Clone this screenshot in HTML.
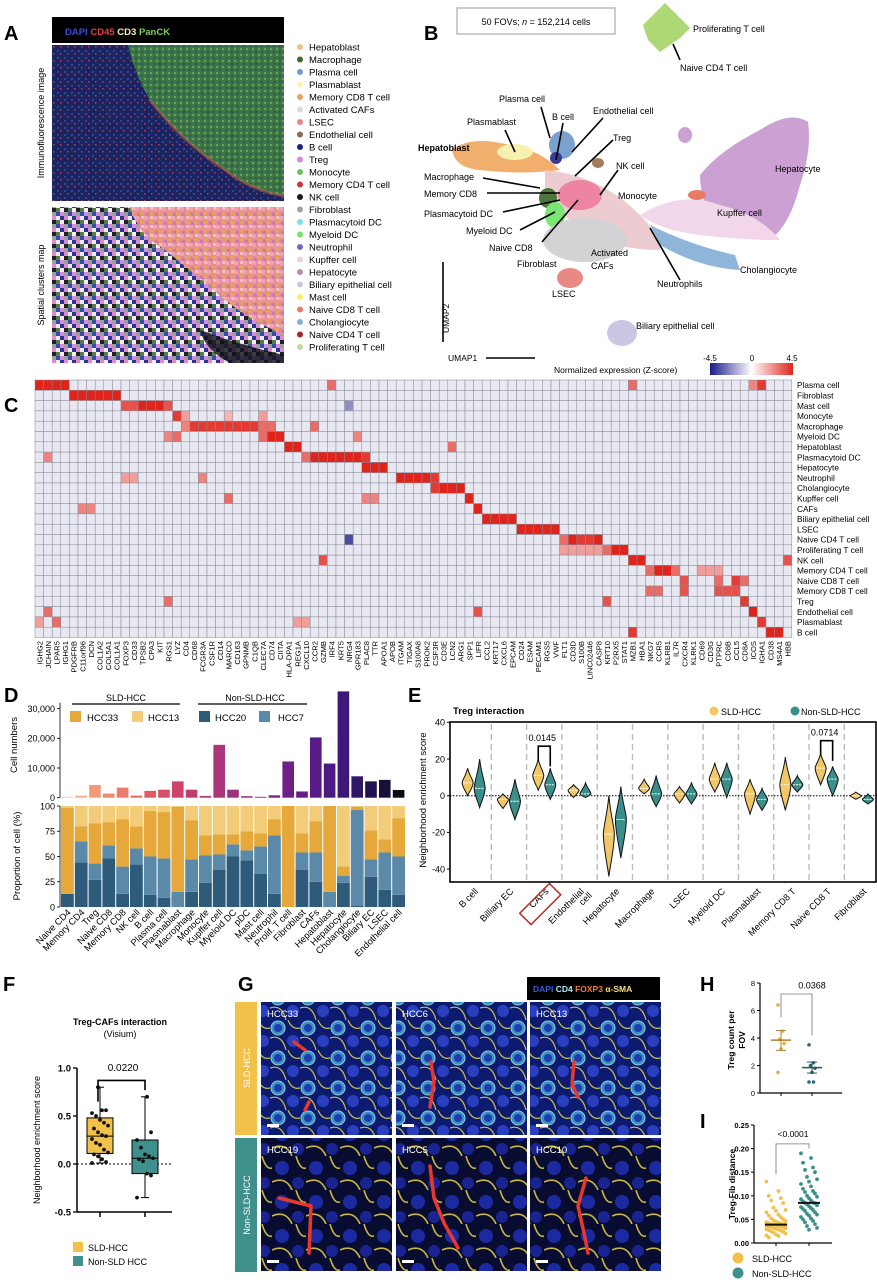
<!DOCTYPE html>
<html><head><meta charset="utf-8">
<style>
html,body{margin:0;padding:0;background:#fff;}
svg{display:block;font-family:"Liberation Sans",Arial,sans-serif;}
</style></head>
<body>
<svg id="fig" width="877" height="1280" viewBox="0 0 877 1280" xmlns="http://www.w3.org/2000/svg">
<defs>
  <pattern id="pinkTex" width="9" height="9" patternUnits="userSpaceOnUse">
    <rect width="9" height="9" fill="#e88a98"/>
    <rect x="0" y="0" width="4" height="4" fill="#f0a3a8"/>
    <rect x="5" y="4" width="4" height="4" fill="#e6a35e"/>
    <rect x="2" y="6" width="3" height="3" fill="#c87aa8"/>
    <rect x="6" y="0" width="3" height="3" fill="#f3c0c8"/>
  </pattern>
  <pattern id="mixTex" width="12" height="12" patternUnits="userSpaceOnUse">
    <rect width="12" height="12" fill="#8aa8d0"/>
    <rect x="0" y="0" width="4" height="4" fill="#2a3496"/>
    <rect x="4" y="0" width="4" height="4" fill="#e08ac8"/>
    <rect x="8" y="0" width="4" height="4" fill="#f2eaf0"/>
    <rect x="0" y="4" width="4" height="4" fill="#f0eef2"/>
    <rect x="4" y="4" width="4" height="4" fill="#202028"/>
    <rect x="8" y="4" width="4" height="4" fill="#5a7a4a"/>
    <rect x="0" y="8" width="4" height="4" fill="#d68ad8"/>
    <rect x="4" y="8" width="4" height="4" fill="#9aa0a0"/>
    <rect x="8" y="8" width="4" height="4" fill="#3050a8"/>
  </pattern>
  <pattern id="greenTex" width="6" height="6" patternUnits="userSpaceOnUse">
    <rect width="6" height="6" fill="#3f7a45"/>
    <rect x="0" y="0" width="2" height="2" fill="#6fa855"/>
    <rect x="3" y="3" width="2" height="2" fill="#2e5a5a"/>
  </pattern>
  <pattern id="blueTex" width="7" height="7" patternUnits="userSpaceOnUse">
    <rect width="7" height="7" fill="#1a2560"/>
    <rect x="1" y="1" width="2" height="2" fill="#3b3f9a"/>
    <rect x="4" y="4" width="1.5" height="1.5" fill="#b04060"/>
  </pattern>
  <pattern id="cellTex" width="30" height="30" patternUnits="userSpaceOnUse">
    <rect width="30" height="30" fill="#0c1a70"/>
    <circle cx="8" cy="8" r="7" fill="#3a90c0" stroke="#8fd0e0" stroke-width="1"/>
    <circle cx="8" cy="8" r="4" fill="#1e3ab0"/>
    <circle cx="23" cy="21" r="6" fill="#2a3fc0"/>
    <path d="M0 18 Q12 14 16 30 M18 0 Q22 10 30 8" stroke="#c8c04a" stroke-width="1.2" fill="none"/>
  </pattern>
  <pattern id="darkTex" width="34" height="34" patternUnits="userSpaceOnUse">
    <rect width="34" height="34" fill="#080c30"/>
    <circle cx="10" cy="12" r="7" fill="#1b2aa0"/>
    <circle cx="26" cy="27" r="6" fill="#1a2490"/>
    <path d="M0 26 Q14 20 20 34 M24 0 Q28 14 34 12" stroke="#c8b840" stroke-width="1.6" fill="none"/>
  </pattern>
  <linearGradient id="cbar" x1="0" x2="1" y1="0" y2="0">
    <stop offset="0" stop-color="#1a1a8c"/><stop offset="0.5" stop-color="#ffffff"/><stop offset="1" stop-color="#e0231b"/>
  </linearGradient>
</defs>

<!-- ============ PANEL A ============ -->
<g>
  <text x="4" y="40" font-size="20" font-weight="bold">A</text>
  <rect x="52" y="17" width="232" height="26" fill="#000"/>
  <text x="65" y="35" font-size="9.5" font-weight="bold"><tspan fill="#3a4ad8">DAPI</tspan> <tspan fill="#e0403a">CD45</tspan> <tspan fill="#f4f0c0">CD3</tspan> <tspan fill="#7ccf5a">PanCK</tspan></text>
  <g>
    <rect x="52" y="45" width="232" height="156" fill="url(#blueTex)"/>
    <path d="M128 45 L284 45 L284 196 Q250 190 225 170 Q180 140 150 100 Q135 75 128 45Z" fill="url(#greenTex)" opacity="0.95"/>
    <path d="M150 100 Q180 140 225 170 Q250 190 284 196" stroke="#d0603a" stroke-width="3" fill="none" opacity="0.5"/>
  </g>
  <g>
    <rect x="52" y="207" width="232" height="156" fill="url(#mixTex)"/>
    <path d="M130 207 L284 207 L284 335 Q250 320 225 300 Q180 260 150 240 Q135 225 130 207Z" fill="url(#pinkTex)"/>
    <path d="M200 330 Q240 345 284 355 L284 363 L230 363 Q205 350 200 330Z" fill="#101018" opacity="0.8"/>
  </g>
  <text transform="translate(44,123) rotate(-90)" font-size="9" text-anchor="middle">Immunofluorescence image</text>
  <text transform="translate(44,285) rotate(-90)" font-size="9" text-anchor="middle">Spatial clusters map</text>
  <g id="legendA"></g>
</g>

<!-- ============ PANEL B ============ -->
<g font-size="9">
  <text x="424" y="40" font-size="20" font-weight="bold">B</text>
  <rect x="457" y="8" width="158" height="26" fill="#fff" stroke="#aaa" stroke-width="1.2"/>
  <text x="536" y="25" text-anchor="middle" font-size="9">50 FOVs; <tspan font-style="italic">n</tspan> = 152,214 cells</text>
  <g opacity="0.92">
    <path d="M643 25 L665 3 L690 28 L680 38 L660 52 L648 40Z" fill="#a8d46a"/>
    <path d="M700 175 Q720 150 760 130 Q790 110 808 122 Q812 150 800 185 Q790 225 770 240 Q740 240 720 225 Q700 205 700 175Z" fill="#c79ad0"/>
    <ellipse cx="685" cy="135" rx="7" ry="8" fill="#c79ad0"/>
    <path d="M640 215 Q680 190 720 205 Q760 215 780 240 Q740 240 700 235 Q660 230 640 215Z" fill="#f0d4e8"/>
    <path d="M650 225 Q690 245 735 255 L740 270 Q700 268 660 245Z" fill="#86b0d6"/>
    <path d="M452 150 Q470 135 510 145 Q540 150 560 170 Q520 175 480 170 Q455 168 452 150Z" fill="#f0a860"/>
    <ellipse cx="515" cy="152" rx="18" ry="8" fill="#f6f0a8"/>
    <ellipse cx="562" cy="145" rx="13" ry="14" fill="#6e9bc9"/>
    <ellipse cx="556" cy="158" rx="6" ry="6" fill="#2a2a90"/>
    <path d="M545 170 Q600 175 640 215 Q660 235 660 250 Q620 250 590 235 Q560 215 545 195Z" fill="#e8c0c8" opacity="0.9"/>
    <ellipse cx="580" cy="195" rx="22" ry="15" fill="#ec7a9a"/>
    <ellipse cx="548" cy="198" rx="9" ry="10" fill="#3f6a2f"/>
    <ellipse cx="555" cy="215" rx="10" ry="13" fill="#6fe36a"/>
    <ellipse cx="585" cy="240" rx="42" ry="22" fill="#d0d0d2"/>
    <ellipse cx="570" cy="278" rx="13" ry="10" fill="#e8807a"/>
    <ellipse cx="622" cy="333" rx="15" ry="13" fill="#c7c2e0"/>
    <ellipse cx="598" cy="163" rx="6" ry="5" fill="#a0704a"/>
    <ellipse cx="697" cy="195" rx="9" ry="5" fill="#e8705a"/>
  </g>
  <g stroke="#000" stroke-width="1.6">
    <line x1="673" y1="44" x2="680" y2="60"/>
    <line x1="541" y1="107" x2="550" y2="138"/>
    <line x1="563" y1="123" x2="556" y2="160"/>
    <line x1="603" y1="118" x2="572" y2="152"/>
    <line x1="505" y1="130" x2="515" y2="152"/>
    <line x1="613" y1="140" x2="575" y2="176"/>
    <line x1="618" y1="170" x2="600" y2="195"/>
    <line x1="483" y1="178" x2="540" y2="188"/>
    <line x1="487" y1="193" x2="560" y2="193"/>
    <line x1="503" y1="212" x2="560" y2="200"/>
    <line x1="520" y1="230" x2="555" y2="212"/>
    <line x1="542" y1="242" x2="578" y2="200"/>
    <line x1="680" y1="280" x2="650" y2="228"/>
  </g>
  <g>
    <text x="693" y="32">Proliferating T cell</text>
    <text x="680" y="71">Naive CD4 T cell</text>
    <text x="499" y="102">Plasma cell</text>
    <text x="552" y="120">B cell</text>
    <text x="593" y="114">Endothelial cell</text>
    <text x="467" y="125">Plasmablast</text>
    <text x="613" y="141">Treg</text>
    <text x="418" y="151" font-weight="bold">Hepatoblast</text>
    <text x="616" y="169">NK cell</text>
    <text x="424" y="180">Macrophage</text>
    <text x="424" y="197">Memory CD8</text>
    <text x="424" y="217">Plasmacytoid DC</text>
    <text x="618" y="199">Monocyte</text>
    <text x="717" y="216">Kupffer cell</text>
    <text x="775" y="172">Hepatocyte</text>
    <text x="466" y="234">Myeloid DC</text>
    <text x="489" y="251">Naive CD8</text>
    <text x="591" y="256">Activated</text>
    <text x="591" y="269">CAFs</text>
    <text x="517" y="267">Fibroblast</text>
    <text x="740" y="273">Cholangiocyte</text>
    <text x="657" y="287">Neutrophils</text>
    <text x="552" y="297">LSEC</text>
    <text x="636" y="329">Biliary epithelial cell</text>
  </g>
  <line x1="443" y1="262" x2="443" y2="342" stroke="#000" stroke-width="1.6"/>
  <text transform="translate(449,333) rotate(-90)" font-size="8.5">UMAP2</text>
  <text x="448" y="361" font-size="8.5">UMAP1</text>
  <line x1="486" y1="358" x2="535" y2="358" stroke="#000" stroke-width="1.6"/>
  <text x="554" y="373" font-size="8.5">Normalized expression (Z-score)</text>
  <rect x="710" y="363" width="83" height="12" fill="url(#cbar)"/>
  <text x="710" y="361" font-size="8" text-anchor="middle">-4.5</text>
  <text x="752" y="361" font-size="8" text-anchor="middle">0</text>
  <text x="792" y="361" font-size="8" text-anchor="middle">4.5</text>
</g>

<!-- ============ PANEL C ============ -->
<g>
  <text x="4" y="412" font-size="20" font-weight="bold">C</text>
  <g id="heat"></g>
</g>

<!-- ============ PANEL D ============ -->
<g>
  <text x="4" y="702" font-size="20" font-weight="bold">D</text>
  <text x="126" y="701" font-size="9" text-anchor="middle">SLD-HCC</text>
  <line x1="72" y1="704" x2="180" y2="704" stroke="#000" stroke-width="1.3"/>
  <text x="255" y="701" font-size="9" text-anchor="middle">Non-SLD-HCC</text>
  <line x1="198" y1="704" x2="307" y2="704" stroke="#000" stroke-width="1.3"/>
  <g id="legD"></g>
  <text transform="translate(17,745) rotate(-90)" font-size="9.5" text-anchor="middle">Cell numbers</text>
  <text transform="translate(20,856) rotate(-90)" font-size="9.5" text-anchor="middle">Proportion of cell (%)</text>
  <g id="chartD"></g>
</g>

<!-- ============ PANEL E ============ -->
<g>
  <text x="408" y="702" font-size="20" font-weight="bold">E</text>
  <text x="453" y="714" font-size="9.5" font-weight="bold">Treg interaction</text>
  <circle cx="714" cy="711" r="4.5" fill="#f2c766"/>
  <text x="721" y="715" font-size="9">SLD-HCC</text>
  <circle cx="795" cy="711" r="4.5" fill="#3a8f8a"/>
  <text x="801" y="715" font-size="9">Non-SLD-HCC</text>
  <text transform="translate(426,800) rotate(-90)" font-size="9.5" text-anchor="middle">Neighborhood enrichment score</text>
  <g id="chartE"></g>
</g>

<!-- ============ PANEL F ============ -->
<g>
  <text x="3" y="991" font-size="20" font-weight="bold">F</text>
  <text x="120" y="1025" font-size="9" font-weight="bold" text-anchor="middle">Treg-CAFs interaction</text>
  <text x="120" y="1037" font-size="9" text-anchor="middle">(Visium)</text>
  <text transform="translate(40,1140) rotate(-90)" font-size="9" text-anchor="middle">Neighborhood enrichment score</text>
  <g id="chartF"></g>
  <rect x="73" y="1242" width="10" height="10" fill="#f2c14a"/>
  <text x="88" y="1251" font-size="9">SLD-HCC</text>
  <rect x="73" y="1256" width="10" height="10" fill="#3f8f8c"/>
  <text x="88" y="1265" font-size="9">Non-SLD HCC</text>
</g>

<!-- ============ PANEL G ============ -->
<g>
  <text x="238" y="991" font-size="20" font-weight="bold">G</text>
  <rect x="527" y="977" width="133" height="23" fill="#000"/>
  <text x="533" y="992" font-size="8.5" font-weight="bold"><tspan fill="#3a5ad8">DAPI</tspan> <tspan fill="#a8ecf4">CD4</tspan> <tspan fill="#f07a3a">FOXP3</tspan> <tspan fill="#f4e070">α-SMA</tspan></text>
  <rect x="235" y="1002" width="22" height="133" fill="#f2c14a"/>
  <text transform="translate(250,1068) rotate(-90)" font-size="9" fill="#fff" text-anchor="middle">SLD-HCC</text>
  <rect x="235" y="1138" width="22" height="134" fill="#3f8f8c"/>
  <text transform="translate(250,1205) rotate(-90)" font-size="9" fill="#fff" text-anchor="middle">Non-SLD-HCC</text>
  <g id="imgG"></g>
</g>

<!-- ============ PANEL H / I ============ -->
<g>
  <text x="700" y="991" font-size="20" font-weight="bold">H</text>
  <text transform="translate(734,1040) rotate(-90)" font-size="8.5" font-weight="bold" text-anchor="middle">Treg count per</text>
  <text transform="translate(745,1040) rotate(-90)" font-size="8.5" font-weight="bold" text-anchor="middle">FOV</text>
  <g id="chartH"></g>
</g>
<g>
  <text x="700" y="1128" font-size="20" font-weight="bold">I</text>
  <text transform="translate(735,1184) rotate(-90)" font-size="8.5" font-weight="bold" text-anchor="middle">Treg-Fib distance</text>
  <g id="chartI"></g>
  <circle cx="738" cy="1258" r="5.5" fill="#f2c14a"/>
  <text x="752" y="1262" font-size="9">SLD-HCC</text>
  <circle cx="738" cy="1273" r="5.5" fill="#3f8f8c"/>
  <text x="752" y="1277" font-size="9">Non-SLD-HCC</text>
</g>
</svg>

<script>
// ---------- DATA ----------
const legendNames = ["Hepatoblast","Macrophage","Plasma cell","Plasmablast","Memory CD8 T cell","Activated CAFs","LSEC","Endothelial cell","B cell","Treg","Monocyte","Memory CD4 T cell","NK cell","Fibroblast","Plasmacytoid DC","Myeloid DC","Neutrophil","Kupffer cell","Hepatocyte","Biliary epithelial cell","Mast cell","Naive CD8 T cell","Cholangiocyte","Naive CD4 T cell","Proliferating T cell"];
const legendColors = ["#e9c48a","#3f6a2f","#6e9bc9","#f7f3b0","#e8a65b","#d8dde0","#e8857f","#8b6a4f","#1a237e","#d98ae0","#6fc05a","#d6323e","#1a1a1a","#a0a0a0","#7fdcea","#6fe36a","#7a66b8","#eccfe3","#b48fb0","#c7c7d8","#f4f06a","#ec7b5e","#86b0d6","#a3262f","#c7d99a"];

const heatRows = ["Plasma cell","Fibroblast","Mast cell","Monocyte","Macrophage","Myeloid DC","Hepatoblast","Plasmacytoid DC","Hepatocyte","Neutrophil","Cholangiocyte","Kupffer cell","CAFs","Biliary epithelial cell","LSEC","Naive CD4 T cell","Proliferating T cell","NK cell","Memory CD4 T cell","Naive CD8 T cell","Memory CD8 T cell","Treg","Endothelial cell","Plasmablast","B cell"];
const heatGenes = ["IGHG2","JCHAIN","LPAR5","IGHG1","PDGFRB","C11orf96","DCN","COL1A2","COL5A1","COL1A1","FOXP3","CD33","TPSB2","CPA3","KIT","RGS1","LYZ","CD4","CD68","FCGR3A","CSF1R","CD14","MARCO","CD163","GPNMB","C1QB","CLEC7A","CD74","CIITA","HLA-DPA1","REG1A","CXCL10","CCR2","GZMB","IRF4","KRT5","NRG4","GPR183","PLAC8","TTR","APOA1","APOB","ITGAM","TIGAX","S100A8","PROK2","CSF3R","CD3E","LCN2","ARG1","SPP1","LIFR","CCL2","KRT17","CXCL6","EPCAM","CD24","ESAM","PECAM1","RGS5","VWF","FLT1","CD3D","S100B","LINC02446","CASP8","KRT10","P2RX5","STAT1","MZB1","HBA1","NKG7","CCR5","KLRB1","IL7R","CXCR4","KLRK1","CD69","CD3G","PTPRC","CD8B","CCL5","CD8A","ICOS","IGHA1","CD38","MS4A1","HBB"];
const heatBaseZ = -0.45;
// [row, firstGene, lastGene, z-score]
const heatBlocks = [
 [0,0,3,4.5],[0,34,34,3],[0,69,69,3],[0,83,83,2.5],[0,84,84,4],
 [1,4,9,4.5],
 [2,10,11,3.5],[2,12,14,4.5],[2,15,15,3.5],[2,36,36,-2.2],
 [3,16,16,4],[3,17,17,2],[3,22,22,1.5],[3,26,26,2],
 [4,17,17,2.5],[4,18,25,4],[4,26,27,3],[4,32,32,3],
 [5,15,15,2.5],[5,16,16,3],[5,26,26,3],[5,27,28,4.5],[5,37,37,2.5],
 [6,29,30,4.5],[6,48,48,3],
 [7,1,1,2.5],[7,31,31,3],[7,32,37,4.5],[7,38,38,4],
 [8,38,40,4.5],
 [9,10,11,2],[9,19,19,2.5],[9,42,45,4.5],[9,46,46,4],
 [10,46,46,4],[10,47,49,4.5],
 [11,22,22,3],[11,38,39,2.5],[11,50,50,4.5],
 [12,5,6,2.5],[12,51,51,4.5],
 [13,52,55,4.5],
 [14,56,60,4.5],
 [15,36,36,-3.5],[15,61,61,3],[15,62,62,4.5],[15,63,64,4],[15,65,65,4.5],
 [16,61,65,2],[16,66,66,3],[16,67,68,4.5],
 [17,33,33,3.5],[17,69,70,4.5],[17,87,87,3.5],
 [18,71,71,3],[18,72,73,4.5],[18,74,74,3],[18,77,79,2],
 [19,75,75,3.5],[19,79,79,3],[19,81,81,4],[19,82,82,3],
 [20,71,72,3],[20,75,75,3.5],[20,79,81,3.5],
 [21,15,15,3],[21,66,66,3.5],[21,82,82,4],
 [22,1,1,3],[22,51,51,3.5],[22,83,83,4.5],
 [23,0,0,2],[23,2,2,3],[23,30,31,2],[23,84,84,4],
 [24,69,69,4],[24,85,86,4.5]
];

const dCats = ["Naive CD4","Memory CD4","Treg","Naive CD8","Memory CD8","NK cell","B cell","Plasma cell","Plasmablast","Macrophage","Monocyte","Kupffer cell","Myeloid DC","pDC","Mast cell","Neutrophil","Prolif. T cell","Fibroblast","CAFs","Hepatoblast","Hepatocyte","Cholangiocyte","Biliary EC","LSEC","Endothelial cell"];
const dCounts = [300,700,4300,1400,3400,700,2300,2700,5500,2700,600,17800,2700,500,300,800,12200,2100,20300,11500,35800,7200,5500,6000,2600];
const dBarColors = ["#f6c8a8","#f3b08a","#f19a7a","#ee8a6e","#eb7b6a","#e66a66","#e05a65","#d94d66","#ce4468","#c03e6e","#b83a72","#aa3578","#9e317c","#922c80","#862883","#7c2485","#701f87","#641c88","#581a87","#4c1984","#3d1878","#301568","#22124f","#181038","#0a0a14"];
const dHCC20 = [13,44,27,48,13,42,12,9,0,15,24,37,50,46,33,13,0,37,25,0,24,1,30,17,12];
const dHCC7  = [0,21,16,13,27,16,38,39,15,32,27,15,12,10,27,58,0,17,29,15,7,95,17,37,38];
const dHCC33 = [85,15,40,23,47,22,45,46,84,39,20,20,10,19,13,16,100,19,31,85,9,3,29,13,38];
const dHCC13 = [2,20,17,16,13,20,5,6,1,14,29,28,28,25,27,13,0,27,15,0,60,1,24,33,12];
const dTicksCount = [0,10000,20000,30000];
const dTicksProp = [0,25,50,75,100];

const eCats = ["B cell","Billiary EC","CAFs","Endothelial cell","Hepatocyte","Macrophage","LSEC","Myeloid DC","Plasmablast","Memory CD8 T","Naive CD8 T","Fibroblast"];
const eSldMed = [7,-2,11,3,-21,4,1,9,1,6,15,0];
const eSldMin = [0,-7,3,-1,-44,1,-4,2,-10,-8,6,-2];
const eSldMax = [15,1,20,6,0,9,5,18,9,21,23,2];
const eNonMed = [4,-3,6,1,-13,1,1,9,-2,6,9,-2];
const eNonMin = [-6.5,-13,-2,-1,-34,-6,-4.5,-1,-8,2,0,-4.5];
const eNonMax = [20,9,15,7,5,11,7,18,4,11,16,1];
const eTicks = [40,20,0,-20,-40];
const ePvals = [[2,"0.0145",19],[10,"0.0714",22]];

const fTicks = [1.0,0.5,0.0,-0.5];
const fSldBox = [0.01,0.11,0.29,0.48,0.80];
const fNonBox = [-0.35,-0.10,0.06,0.25,0.70];
const fSldPts = [0.01,0.02,0.05,0.08,0.10,0.12,0.15,0.20,0.22,0.26,0.29,0.30,0.33,0.37,0.40,0.43,0.46,0.50,0.53,0.56,0.56,0.80];
const fNonPts = [-0.35,-0.12,-0.10,0.03,0.05,0.06,0.08,0.10,0.17,0.25,0.33,0.70];

const hTicks = [0,2,4,6,8];
const hSld = [6.4,4.5,3.9,3.6,3.2,1.5];
const hNon = [3.5,2.2,2.0,1.8,1.5,0.8,0.8];
const hSldStats = [3.85,3.1,4.55];
const hNonStats = [1.85,1.45,2.25];

const iTicks = [0.00,0.05,0.10,0.15,0.20,0.25];
const iSld = [0.13,0.11,0.10,0.095,0.09,0.085,0.075,0.07,0.068,0.065,0.06,0.058,0.055,0.052,0.05,0.048,0.046,0.045,0.044,0.043,0.042,0.041,0.04,0.04,0.039,0.038,0.038,0.037,0.036,0.035,0.035,0.034,0.033,0.032,0.031,0.03,0.029,0.028,0.027,0.026,0.025,0.024,0.022,0.02,0.018,0.016,0.015,0.012];
const iNon = [0.19,0.18,0.17,0.16,0.155,0.15,0.14,0.135,0.13,0.125,0.12,0.115,0.11,0.108,0.105,0.1,0.098,0.095,0.093,0.09,0.088,0.086,0.085,0.084,0.082,0.08,0.078,0.076,0.074,0.072,0.07,0.068,0.065,0.062,0.06,0.058,0.055,0.052,0.05,0.047,0.044,0.04,0.036,0.032,0.028];
const iMeans = [0.039,0.085];

// ---------- HELPERS ----------
const NS = "http://www.w3.org/2000/svg";
function mk(tag, attrs, parent){ const e=document.createElementNS(NS,tag); for(const k in attrs) e.setAttribute(k,attrs[k]); parent.appendChild(e); return e; }
function txt(str, attrs, parent){ const e=mk("text",attrs,parent); e.textContent=str; return e; }

// ---------- PANEL A LEGEND ----------
const legA = document.getElementById("legendA");
legendNames.forEach((n,i)=>{
  const y = 47 + i*12.5;
  const d = mk("circle",{cx:300,cy:y,r:3,fill:legendColors[i]},legA);
  
  
  const t = txt(n,{x:309,y:y+3.3,"font-size":9.5},legA);
  
  
});

// ---------- PANEL C HEATMAP ----------
(function(){
  const g = document.getElementById("heat");
  const x0=35, y0=380, cw=8.6, rh=10.3;
  const xS = j => x0 + j*cw;
  const yS = i => y0 + i*rh;
  function zColor(z){
    const t = Math.max(-1,Math.min(1,z/4.5));
    let r,gg,b;
    if(t<0){ const a=-t; r=255+(26-255)*a; gg=255+(26-255)*a; b=255+(140-255)*a; }
    else { const a=t; r=255+(224-255)*a; gg=255+(35-255)*a; b=255+(27-255)*a; }
    return `rgb(${r|0},${gg|0},${b|0})`;
  }
  const grid = heatRows.map(()=>heatGenes.map(()=>heatBaseZ));
  heatBlocks.forEach(b=>{ for(let j=b[1];j<=b[2];j++) grid[b[0]][j]=b[3]; });
  grid.forEach((row,i)=>row.forEach((z,j)=>{
    const c = mk("rect",{x:xS(j),y:yS(i),width:cw,height:rh,fill:zColor(z),stroke:"#8a8a96","stroke-width":0.5},g);
    
    
  }));
  heatRows.forEach((n,i)=>{
    const t = txt(n,{x:797,y:yS(i)+rh/2+3,"font-size":8.3},g);
    
    
  });
  heatGenes.forEach((n,j)=>{
    const cx = xS(j)+cw/2+3;
    const t = txt(n,{transform:`translate(${cx},641) rotate(-90)`,"font-size":7.6,"text-anchor":"end"},g);
    
    
  });
})();

// ---------- PANEL D ----------
(function(){
  const leg = document.getElementById("legD");
  const items=[["HCC33","#e6a83a",70,87],["HCC13","#f2cc78",132,148],["HCC20","#2f5b7a",199,215],["HCC7","#5b8aa8",259,278]];
  items.forEach(it=>{
    const r = mk("rect",{x:it[2],y:711,width:11,height:11,fill:it[1]},leg);
    
    
    const t = txt(it[0],{x:it[3],y:721,"font-size":9.5},leg);
    
    
  });
  const g = document.getElementById("chartD");
  const xC = i => 67.4 + i*13.8;
  const yCount = v => 797.7 - v*0.00297;
  const yProp = p => 907 - p*1.01;
  mk("line",{x1:60,y1:yCount(32000),x2:60,y2:yCount(0),stroke:"#000","stroke-width":0.8},g);
  mk("line",{x1:60,y1:yProp(100),x2:60,y2:yProp(0),stroke:"#000","stroke-width":0.8},g);
  dTicksCount.forEach(v=>{
    mk("line",{x1:57,y1:yCount(v),x2:60,y2:yCount(v),stroke:"#000","stroke-width":0.8},g);
    const t = txt(v.toLocaleString("en-US"),{x:55,y:yCount(v)+3.3,"font-size":9,"text-anchor":"end"},g);
    
    
  });
  dTicksProp.forEach(v=>{
    mk("line",{x1:57,y1:yProp(v),x2:60,y2:yProp(v),stroke:"#000","stroke-width":0.8},g);
    const t = txt(String(v),{x:55,y:yProp(v)+3.3,"font-size":9,"text-anchor":"end"},g);
    
    
  });
  dCounts.forEach((v,i)=>{
    const b = mk("rect",{x:xC(i)-5.8,y:yCount(v),width:11.6,height:yCount(0)-yCount(v),fill:dBarColors[i]},g);
    
    
  });
  const series=[[dHCC20,"#2f5b7a"],[dHCC7,"#5b8aa8"],[dHCC33,"#e6a83a"],[dHCC13,"#f2cc78"]];
  dCats.forEach((c,i)=>{
    let acc=0;
    series.forEach(s=>{
      const v=s[0][i];
      const r = mk("rect",{x:xC(i)-6.4,y:yProp(acc+v),width:12.8,height:yProp(acc)-yProp(acc+v),fill:s[1]},g);
      
      
      acc+=v;
    });
    const t = txt(c,{transform:`translate(${xC(i)+4},913) rotate(-45)`,"font-size":9.3,"text-anchor":"end"},g);
    
    
  });
})();

// ---------- PANEL E ----------
(function(){
  const g = document.getElementById("chartE");
  const L=450,R=877,T=722,B=882;
  const bw=35.3, xs=456;
  const xC = i => xs + bw*(i+0.5);
  const yV = v => 795.7 - v*1.835;
  for(let k=1;k<12;k++){
    mk("line",{x1:xs+bw*k,y1:T+2,x2:xs+bw*k,y2:B-2,stroke:"#bbb","stroke-width":1.4,"stroke-dasharray":"6,4"},g);
  }
  mk("line",{x1:L,y1:yV(0),x2:R,y2:yV(0),stroke:"#000","stroke-width":1,"stroke-dasharray":"1.5,1.5"},g);
  eTicks.forEach(v=>{
    mk("line",{x1:L-3,y1:yV(v),x2:L,y2:yV(v),stroke:"#000"},g);
    const t = txt(String(v),{x:L-5,y:yV(v)+3.3,"font-size":9,"text-anchor":"end"},g);
    
    
  });
  function violin(cx,med,mn,mx,fill,w){
    const p = `M${cx},${yV(mx)} C${cx+w*0.3},${yV(med+(mx-med)*0.5)} ${cx+w},${yV(med+(mx-med)*0.2)} ${cx+w},${yV(med)} C${cx+w},${yV(med-(med-mn)*0.3)} ${cx+w*0.3},${yV(mn+(med-mn)*0.3)} ${cx},${yV(mn)} C${cx-w*0.3},${yV(mn+(med-mn)*0.3)} ${cx-w},${yV(med-(med-mn)*0.3)} ${cx-w},${yV(med)} C${cx-w},${yV(med+(mx-med)*0.2)} ${cx-w*0.3},${yV(med+(mx-med)*0.5)} ${cx},${yV(mx)}Z`;
    const v = mk("path",{d:p,fill:fill,stroke:"#111","stroke-width":1},g);
    mk("line",{x1:cx-w*0.8,y1:yV(med),x2:cx+w*0.8,y2:yV(med),stroke:"#fff","stroke-width":1,"stroke-dasharray":"2,1"},g);
    return v;
  }
  eCats.forEach((c,i)=>{
    const v1 = violin(xC(i)-6,eSldMed[i],eSldMin[i],eSldMax[i],"#f2c766",5.5);
    
    
    const v2 = violin(xC(i)+6,eNonMed[i],eNonMin[i],eNonMax[i],"#3a8f8a",5.5);
    
    
    const t = txt(c==="Endothelial cell"?"Endothelial":c,{transform:`translate(${xC(i)+5},892) rotate(-45)`,"font-size":9.3,"text-anchor":"end"},g);
    
    
    if(c==="Endothelial cell"){
      const t2 = txt("cell",{transform:`translate(${xC(i)+13},896) rotate(-45)`,"font-size":9.3,"text-anchor":"end"},g);
      
      
    }
    if(c==="CAFs"){
      const hb = mk("rect",{x:-21,y:-8,width:42,height:16,fill:"none",stroke:"#b0302a","stroke-width":1.5,transform:`translate(${xC(i)-4},904) rotate(-45)`},g);
      
      
    }
  });
  ePvals.forEach(p=>{
    const i=p[0], top=yV(p[2]+8);
    mk("path",{d:`M${xC(i)-6},${yV(p[2])} L${xC(i)-6},${top} L${xC(i)+6},${top} L${xC(i)+6},${yV(p[2]-3)}`,fill:"none",stroke:"#000","stroke-width":1.6},g);
    const t = txt(p[1],{x:xC(i)-2,y:top-5,"font-size":9,"text-anchor":"middle"},g);
    
    
  });
  const fr = mk("rect",{x:L,y:T,width:R-L-1,height:B-T,fill:"none",stroke:"#000","stroke-width":1.6},g);
  
  
})();

// ---------- PANEL F ----------
(function(){
  const g = document.getElementById("chartF");
  const yV = v => 1164 - v*96;
  const xS=100, xN=145;
  mk("line",{x1:77,y1:yV(1.0),x2:77,y2:yV(-0.5),stroke:"#000","stroke-width":1.5},g);
  mk("line",{x1:77,y1:yV(-0.5),x2:172,y2:yV(-0.5),stroke:"#000","stroke-width":1.5},g);
  [xS,xN].forEach(x=>mk("line",{x1:x,y1:yV(-0.5),x2:x,y2:yV(-0.5)+5,stroke:"#000","stroke-width":1.5},g));
  fTicks.forEach(v=>{
    mk("line",{x1:73,y1:yV(v),x2:77,y2:yV(v),stroke:"#000","stroke-width":1.3},g);
    const t = txt(v.toFixed(1),{x:71,y:yV(v)+3.5,"font-size":9.5,"text-anchor":"end","font-weight":"bold"},g);
    
    
  });
  mk("line",{x1:77,y1:yV(0),x2:172,y2:yV(0),stroke:"#000","stroke-width":1,"stroke-dasharray":"2,2"},g);
  function box(cx,s,fill,name){
    mk("line",{x1:cx,y1:yV(s[0]),x2:cx,y2:yV(s[4]),stroke:"#000","stroke-width":1},g);
    mk("line",{x1:cx-4,y1:yV(s[0]),x2:cx+4,y2:yV(s[0]),stroke:"#000"},g);
    mk("line",{x1:cx-4,y1:yV(s[4]),x2:cx+4,y2:yV(s[4]),stroke:"#000"},g);
    const b = mk("rect",{x:cx-13,y:yV(s[3]),width:26,height:yV(s[1])-yV(s[3]),fill:fill,stroke:"#000","stroke-width":1},g);
    
    
    mk("line",{x1:cx-13,y1:yV(s[2]),x2:cx+13,y2:yV(s[2]),stroke:"#000"},g);
  }
  box(xS,fSldBox,"#f2c14a","box-sld");
  box(xN,fNonBox,"#3f8f8c","box-non-sld");
  function pts(cx,arr){
    arr.forEach((v,i)=>{
      const off = ((i*7)%9-4)*2;
      const c = mk("circle",{cx:cx+off,cy:yV(v),r:1.9,fill:"#111"},g);
      
      
    });
  }
  pts(xS,fSldPts); pts(xN,fNonPts);
  mk("path",{d:`M${xS-2},${yV(0.65)} L${xS-2},${yV(0.87)} L${xN},${yV(0.87)} L${xN},${yV(0.77)}`,fill:"none",stroke:"#000","stroke-width":1.6},g);
  const t = txt("0.0220",{x:123,y:yV(0.97),"font-size":10,"text-anchor":"middle"},g);
  
  
})();

// ---------- PANEL G ----------
(function(){
  const g = document.getElementById("imgG");
  const cols=[261,396,530], colW=131, rows=[1002,1138], rowH=133;
  const names=[["HCC33","HCC6","HCC13"],["HCC19","HCC5","HCC10"]];
  const paths=[
    ["M33,40 L44,48 M48,100 L44,108","M35,60 L38,80 L34,105","M44,60 L42,82 L48,95"],
    ["M18,60 L50,68 L48,115","M34,28 L38,60 L48,85 L62,110","M56,40 L48,68 L54,95 L58,115"]];
  for(let r=0;r<2;r++) for(let c=0;c<3;c++){
    const x=cols[c], y=rows[r];
    const im = mk("rect",{x:x,y:y,width:colW,height:rowH,fill:r===0?"url(#cellTex)":"url(#darkTex)"},g);
    
    
    const t = txt(names[r][c],{x:x+6,y:y+15,"font-size":9.5,fill:"#fff"},g);
    
    
    const scale = mk("rect",{x:x+6,y:y+rowH-11,width:12,height:3,fill:"#fff"},g);
    
    
    const p = mk("path",{d:paths[r][c],transform:`translate(${x},${y})`,fill:"none",stroke:"#e8382e","stroke-width":3.5,"stroke-linecap":"round","stroke-linejoin":"round"},g);
    
    
  }
})();

// ---------- PANEL H ----------
(function(){
  const g = document.getElementById("chartH");
  const yV = v => 1093 - v*13.75;
  const xS=781, xN=812;
  mk("line",{x1:760,y1:yV(8),x2:760,y2:yV(0),stroke:"#000","stroke-width":1.2},g);
  mk("line",{x1:760,y1:yV(0),x2:842,y2:yV(0),stroke:"#000","stroke-width":1.2},g);
  [xS,xN].forEach(x=>mk("line",{x1:x,y1:yV(0),x2:x,y2:yV(0)+3,stroke:"#000"},g));
  hTicks.forEach(v=>{
    mk("line",{x1:757,y1:yV(v),x2:760,y2:yV(v),stroke:"#000"},g);
    const t = txt(String(v),{x:755,y:yV(v)+3,"font-size":7.5,"text-anchor":"end"},g);
    
    
  });
  function grp(cx,arr,st,col,lc){
    arr.forEach((v,i)=>{
      const c = mk("circle",{cx:cx+((i*3)%5-2)*1.5,cy:yV(v),r:1.8,fill:col},g);
      
      
    });
    mk("line",{x1:cx-10,y1:yV(st[0]),x2:cx+10,y2:yV(st[0]),stroke:lc,"stroke-width":1.5},g);
    mk("line",{x1:cx,y1:yV(st[1]),x2:cx,y2:yV(st[2]),stroke:lc,"stroke-width":1},g);
    mk("line",{x1:cx-5,y1:yV(st[1]),x2:cx+5,y2:yV(st[1]),stroke:lc},g);
    mk("line",{x1:cx-5,y1:yV(st[2]),x2:cx+5,y2:yV(st[2]),stroke:lc},g);
  }
  grp(xS,hSld,hSldStats,"#e0b040","#b08030");
  grp(xN,hNon,hNonStats,"#2a6a70","#1d5a60");
  mk("path",{d:`M${xS},${yV(5.5)} L${xS},${yV(7.2)} L${xN},${yV(7.2)} L${xN},${yV(4.2)}`,fill:"none",stroke:"#777","stroke-width":0.8},g);
  const t = txt("0.0368",{x:812,y:yV(7.6),"font-size":9,"text-anchor":"middle"},g);
  
  
})();

// ---------- PANEL I ----------
(function(){
  const g = document.getElementById("chartI");
  const yV = v => 1243 - v*472;
  const xS=776, xN=809;
  mk("line",{x1:754,y1:yV(0.25),x2:754,y2:yV(0),stroke:"#000","stroke-width":1.2},g);
  mk("line",{x1:754,y1:yV(0),x2:832,y2:yV(0),stroke:"#000","stroke-width":1.2},g);
  [xS,xN].forEach(x=>mk("line",{x1:x,y1:yV(0),x2:x,y2:yV(0)+3,stroke:"#000"},g));
  iTicks.forEach(v=>{
    mk("line",{x1:751,y1:yV(v),x2:754,y2:yV(v),stroke:"#000"},g);
    const t = txt(v.toFixed(2),{x:749,y:yV(v)+3,"font-size":7.5,"text-anchor":"end","font-weight":"bold"},g);
    
    
  });
  function swarm(cx,arr,col,width){
    arr.forEach((v,i)=>{
      const off = ((i*5)%9-4)*width;
      const c = mk("circle",{cx:cx+off,cy:yV(v),r:1.9,fill:col},g);
      
      
    });
  }
  swarm(xS,iSld,"#f0c050",2.4);
  swarm(xN,iNon,"#3a8f8a",2.0);
  [[xS,iMeans[0]],[xN,iMeans[1]]].forEach(m=>{
    const l = mk("line",{x1:m[0]-11,y1:yV(m[1]),x2:m[0]+11,y2:yV(m[1]),stroke:"#111","stroke-width":2},g);
    
    
  });
  mk("path",{d:`M${xS},${yV(0.145)} L${xS},${yV(0.21)} L${xN},${yV(0.21)} L${xN},${yV(0.2)}`,fill:"none",stroke:"#777","stroke-width":0.8},g);
  const t = txt("<0.0001",{x:793,y:yV(0.225),"font-size":8.5,"text-anchor":"middle"},g);
  
  
})();
</script>
</body></html>
